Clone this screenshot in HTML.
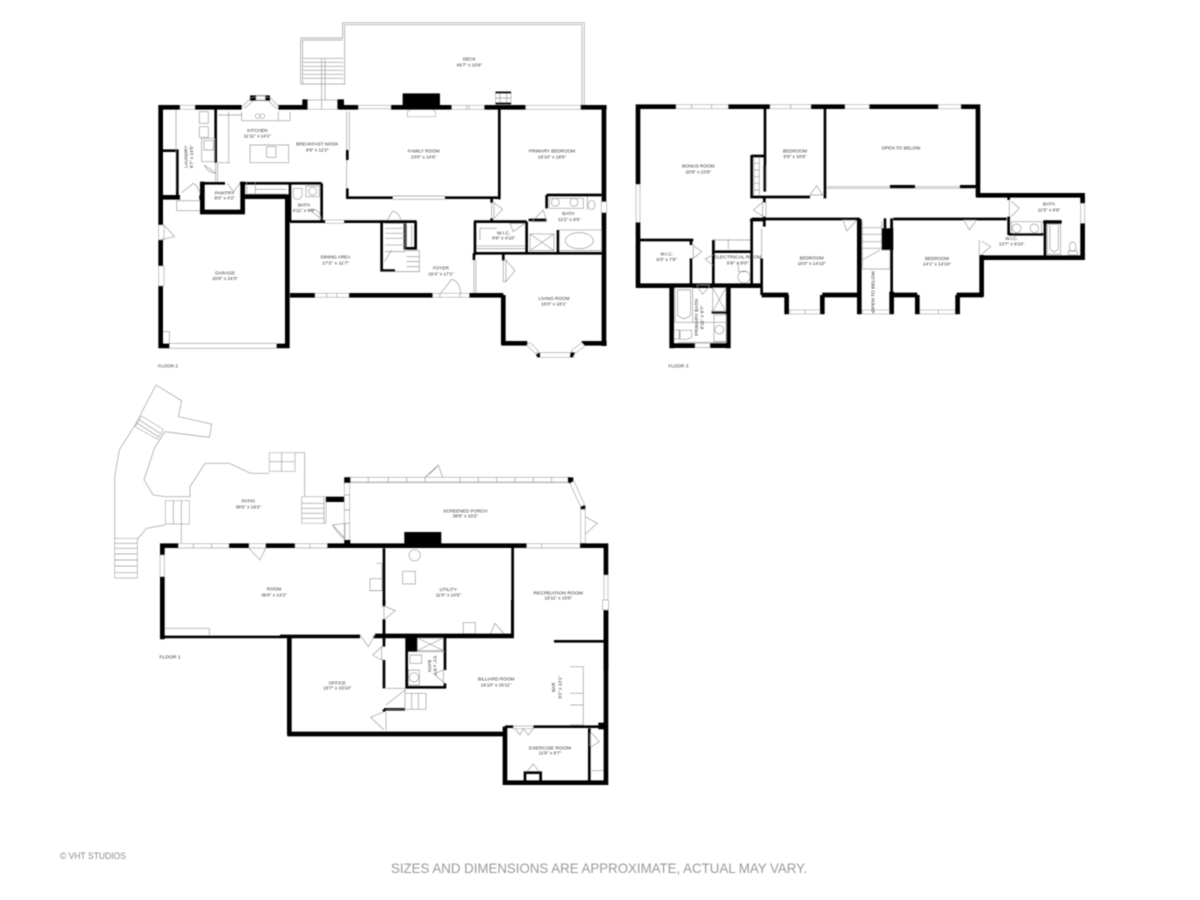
<!DOCTYPE html>
<html><head><meta charset="utf-8"><style>
html,body{margin:0;padding:0;background:#fff}
svg{display:block;filter:blur(.4px)}
text{font-family:"Liberation Sans",sans-serif;fill:#333;text-anchor:middle;font-size:14px}
.w{fill:none;stroke:#000;stroke-width:14}
.m{fill:none;stroke:#000;stroke-width:8}
.g{fill:none;stroke:#999;stroke-width:2}
.l{fill:none;stroke:#aaa;stroke-width:2}
.h{fill:#fff;stroke:#aaa;stroke-width:2}
.b{fill:#000}
</style></head><body>
<svg xmlns="http://www.w3.org/2000/svg" width="1200" height="900" viewBox="0 0 1200 900">
<rect width="1200" height="900" fill="#fff"/>

<!-- FLOOR 2 -->
<g transform="translate(150,10) scale(.3333)">
<!-- deck -->
<path class="g" d="M578,85V38H1303V285M584,222V44H1296V285M452,222V84H578M458,222V90H578"/>
<path class="g" d="M460,145H580M460,157H580M460,169H580M460,181H580M460,193H580M460,205H580M452,222H586M515,145V270M525,145V270"/>
<rect class="h" x="1037" y="245" width="46" height="38"/><rect class="b" x="1037" y="245" width="46" height="5"/><rect class="b" x="1037" y="278" width="46" height="5"/><path class="g" d="M1050,250V278M1070,250V278M1037,264H1083"/>
<path class="b" d="M758,250H870V292H758Z"/>
<path class="h" d="M772,320V305L790,293H840L857,305V320Z"/>
<!-- outer walls -->
<path class="w" d="M32,285V645M32,690V768M32,828V1015M25,292H90M135,292H275M385,292H472M567,292H625M723,292H905M1003,292H1127M1292,292H1370M1362,285V575M1362,608V1008M1295,1000H1370M1055,1000H1132M1060,855V1005M420,856H495M597,856H848M958,856H1060M25,1008H58M380,1008H418M412,560V1015M32,562H90M148,562H158"/>
<path class="b" d="M457,268H473V298H457ZM562,268H582V298H562ZM300,256H360V272H300Z"/>
<path class="g" d="M275,292L305,262H360L388,292M283,296L310,272H355L380,296"/>
<rect class="h" x="318" y="258" width="28" height="12"/>
<!-- windows -->
<path class="h" d="M90,286H135V298H90ZM473,270H562V298H473ZM625,286H723V296H625ZM905,286H1003V298H905ZM1127,286H1292V298H1127ZM495,850H597V862H495ZM848,850H958V862H848ZM26,768H42V828H26ZM26,645H42V690H26ZM1354,575H1370V608H1354ZM525,630H583V640H525Z"/>
<path class="g" d="M950,286V298M957,286V298M515,270V298M530,850V862M560,850V862M870,850V862M930,850V862"/>
<path class="h" d="M1130,1005L1140,998L1165,1022L1158,1032ZM1165,1028H1272V1042H1165ZM1272,1032L1264,1022L1296,998L1305,1008Z"/>
<path class="b" d="M1158,1034L1170,1028V1042H1162ZM1262,1028H1275L1268,1042H1260Z"/>
<!-- garage door -->
<path class="g" d="M58,1000H380M58,1015H380M40,965H58V1000"/>
<!-- inner -->
<path class="m" d="M38,422H82V555M197,295V458"/>
<path class="g" d="M197,458V515M203,458V515M78,300V545"/>
<path class="w" d="M157,515V612M150,606H285M278,515V612M285,560H418"/>
<path class="m" d="M157,520H225M270,520H515M515,520V632M420,520V635M420,635H525M583,635H695M695,635V785M695,635H800M695,782H735M765,640V715H797V635M975,635V735M972,635H1130M1130,635V730M972,730H1355M1224,660V730M1190,555H1355M1190,555V595M1136,630H1190M1025,565V578M1025,625V635M1060,730V752M972,730V750M972,850V860"/>
<path class="m" d="M592,420V450M592,535V567M590,563H728M885,563H1050M1048,295V568"/>
<path class="g" d="M590,305V420M598,305V420M590,450V535M728,558H885M728,568H885M972,750V850M978,750V850"/>
<!-- kitchen fixtures -->
<path class="g" d="M205,315H275M236,305V458M205,458H240M275,305V332H420V305M385,305V332M300,405H416V458H300ZM350,410H378V442H350ZM148,305H175V340H148ZM148,350H175V382H148ZM155,385H195V455H155ZM162,392H190V420H162ZM290,515V552H410M316,515V552M316,538H410"/>
<circle class="g" cx="323" cy="318" r="7"/><circle class="g" cx="337" cy="318" r="7"/>
<path class="g" d="M198,490L163,465M163,465Q172,488 198,490M130,520L95,548M130,520Q146,530 148,548M80,572H150M80,602H150M80,572V602M232,520L250,545M270,520L250,545"/>
<path class="g" d="M430,535H456V560L448,568H436L430,560ZM468,528H508V560H468Z"/><circle class="g" cx="488" cy="544" r="12"/>
<path class="g" d="M515,628L480,600M480,600Q505,590 515,628M728,603L712,630M728,603Q750,610 752,630M705,640H765V725H705M705,655H765M705,670H765M705,685H765M705,705H765M770,722H808V785H695M770,740H808M770,755H808M770,770H808M770,645V710M785,645V710M703,755L725,720"/>
<path class="g" d="M1025,578H1032V625H1025ZM1032,578L1058,598L1032,625M990,690V655H1040M980,708H1125M980,716H1125M1080,640H1125L1090,665ZM1140,672H1212V722H1140ZM1140,672L1212,722M1212,672L1140,722M1228,660H1355V722H1228ZM1198,565H1300V595H1198ZM1312,560V600M1145,635L1180,600L1190,635Z"/>
<ellipse class="g" cx="1288" cy="692" rx="42" ry="24"/><circle class="g" cx="1216" cy="577" r="12"/><circle class="g" cx="1272" cy="577" r="12"/><ellipse class="g" cx="1325" cy="585" rx="10" ry="14"/>
<path class="g" d="M1060,750H1068V815H1060ZM1068,750L1095,782L1068,815M872,850L905,808Q930,815 932,850M28,690L74,680L42,645"/>
<!-- labels -->
<text x="958" y="152">DECK</text><text x="958" y="170">46'7" x 10'9"</text>
<text x="322" y="366">KITCHEN</text><text x="322" y="383">11'11" x 14'1"</text>
<text x="502" y="406">BREAKFAST NOOK</text><text x="502" y="424">9'9" x 12'2"</text>
<text x="821" y="428">FAMILY ROOM</text><text x="821" y="445">23'0" x 14'6"</text>
<text x="1206" y="428">PRIMARY BEDROOM</text><text x="1206" y="445">16'10" x 18'6"</text>
<text x="224" y="553" style="font-size:15px">PANTRY</text><text x="224" y="568">8'0" x 4'2"</text>
<text x="462" y="590">BATH</text><text x="462" y="606">4'11" x 9'9"</text>
<text x="1255" y="615">BATH</text><text x="1258" y="633">12'2" x 9'5"</text>
<text x="1061" y="673" style="font-size:15px">W.I.C.</text><text x="1061" y="689">8'8" x 4'10"</text>
<text x="557" y="745">DINING AREA</text><text x="557" y="763" style="font-size:15px">17'2" x 11'7"</text>
<text x="873" y="779">FOYER</text><text x="873" y="796">15'4" x 17'1"</text>
<text x="225" y="793">GARAGE</text><text x="225" y="810">20'8" x 24'3"</text>
<text x="1212" y="870">LIVING ROOM</text><text x="1212" y="887">16'0" x 18'1"</text>
<text x="0" y="0" transform="translate(112,440) rotate(-90)">LAUNDRY</text><text x="0" y="0" transform="translate(129,440) rotate(-90)">8'7" x 14'5"</text>
<text x="54" y="1073">FLOOR 2</text>
</g>

<!-- FLOOR 3 -->
<g transform="translate(630,95) scale(.3333)">
<path class="w" d="M18,35H138M295,35H420M543,35H645M718,35H925M993,35H1050M24,28V268M24,382V578M1044,28V305M1038,301H1365M1358,295V325M1358,385V495M1055,488H1365M1055,480V605M980,600H1060M983,600V658M862,600V658M790,600H862M785,590V658M470,600V658M577,600V658M577,600H690M395,600H475M688,372V658M18,572H395M125,570V760M295,570V760M125,752H195M240,752H300"/>
<path class="m" d="M405,35V290M365,180V310M365,183H405M365,306H540M585,35V310M403,310V322M403,365V395M360,375H400M365,375V570M395,490V600M365,372H690M790,372H1130M785,372V600M1136,305V315M1136,365V420M1136,418H1240M1245,380V488M1240,380H1295M30,435H190M183,435V450M183,490V570M250,435V570M250,470H365M245,652H295"/>
<path class="g" d="M248,435H360M255,432V468M295,432V462M590,280H1040M590,275H1040"/>
<rect class="b" x="780" y="270" width="75" height="9"/><rect class="b" x="990" y="270" width="50" height="9"/>
<rect class="b" x="755" y="400" width="35" height="65"/><path class="m" d="M765,370V400M785,370V400"/>
<path class="h" d="M138,29H295V41H138ZM420,29H543V41H420ZM645,29H718V41H645ZM925,29H993V41H925ZM18,268H30V382H18ZM1352,325H1364V385H1352ZM480,645H570V657H480ZM697,645H778V657H697ZM870,645H975V657H870ZM195,745H240V758H195Z"/>
<path class="g" d="M185,29V41M245,29V41M482,29V41M730,645V657M925,645V657M525,645V657"/>
<path class="g" d="M372,185V300M388,185V300M372,205H388M372,225H388M372,245H388M372,265H388M372,285H388"/>
<path class="g" d="M400,210V290M408,210V290M540,300H580M540,300L560,272L578,300M398,320V365M408,320V365M400,320L370,345L400,365M635,375H678M640,378L650,408L678,378M1000,375H1040M1003,378L1018,405L1038,378M1048,435V478M1055,438L1082,455L1055,478M1138,318V365M1143,318L1168,340L1143,365M183,450H190V490H183M190,452L215,470L190,490M250,480L225,492L250,512"/>
<path class="g" d="M697,378V520M755,378V462M697,398H755M697,418H755M697,440H755M697,460H755M697,522H780M755,465H780V522M697,495L750,465M395,400V485"/>
<path class="g" d="M135,578H188V682H135ZM143,585H182V662L162,672L143,662ZM200,570H240M200,572L218,598L240,572M248,578H288V650H248ZM248,578L288,650M288,578L248,650M145,682H290V742H145M132,705H148V732H132ZM150,706H185V728L170,733H150ZM252,660H290V740H252Z"/>
<circle class="g" cx="268" cy="704" r="13"/><circle class="g" cx="342" cy="546" r="18"/><path class="g" d="M325,500V530H350"/>
<path class="g" d="M1145,380H1235V415H1145ZM1252,388H1292V478H1252ZM1260,392V462L1272,472L1285,462V392M1315,468H1342V480H1315Z"/><circle class="g" cx="1160" cy="400" r="13"/><circle class="g" cx="1213" cy="400" r="13"/><ellipse class="g" cx="1328" cy="455" rx="10" ry="14"/>
<rect class="b" x="1240" y="376" width="55" height="10"/>
<text x="205" y="218">BONUS ROOM</text><text x="205" y="235">20'8" x 23'8"</text>
<text x="495" y="173">BEDROOM</text><text x="495" y="189">9'8" x 18'6"</text>
<text x="813" y="163">OPEN TO BELOW</text>
<text x="545" y="493">BEDROOM</text><text x="545" y="510">16'0" x 14'10"</text>
<text x="921" y="495">BEDROOM</text><text x="921" y="511">14'1" x 14'10"</text>
<text x="1257" y="332">BATH</text><text x="1257" y="349">11'5" x 9'9"</text>
<text x="1145" y="435">W.I.C.</text><text x="1145" y="452">13'7" x 6'10"</text>
<text x="110" y="481">W.I.C.</text><text x="110" y="498">6'0" x 7'9"</text>
<text x="323" y="490" style="font-size:15px">ELECTRICAL ROOM</text><text x="323" y="508" style="font-size:15px">5'8" x 9'0"</text>
<text style="font-size:15px" transform="translate(733,590) rotate(-90)">OPEN TO BELOW</text>
<text style="font-size:15px" transform="translate(204,667) rotate(-90)">PRIMARY BATH</text><text style="font-size:15px" transform="translate(221,667) rotate(-90)">8'11" x 9'7"</text>
<text x="145" y="818">FLOOR 3</text>
</g>

<!-- FLOOR 1 upper -->
<g transform="translate(110,380) scale(.3333)">
<path class="g" d="M138,15L215,62L205,110L305,132L298,172L165,155L133,205L102,300L130,345L165,350H240V320L285,250H358L422,280H478M138,15L75,135L28,210L14,290V480H80L110,445L165,435"/>
<path class="h" d="M95,108L160,148L143,178L75,140Z"/><path class="g" d="M88,120L150,160M82,130L145,170"/>
<path class="h" d="M166,362H238V432H166Z"/><path class="g" d="M190,362V432M214,362V432"/>
<path class="h" d="M14,475H82V594H14Z"/><path class="g" d="M14,490H82M14,505H82M14,522H82M14,540H82M14,558H82M14,578H82"/>
<path class="h" d="M478,218H555V274H478Z"/><path class="g" d="M478,245H555M515,218V274M555,218H584V350M214,432V490"/>
<path class="h" d="M575,350H648V430H575Z"/><path class="g" d="M575,370H642M575,385H642M575,400H642M575,415H642M642,352V430"/>
<rect class="b" x="648" y="350" width="55" height="16"/>
<path class="h" d="M703,300H1382V308H703ZM703,308H719V490H703Z"/><rect class="h" x="703" y="292" width="677" height="14"/>
<path class="g" d="M775,292V306M835,292V306M890,292V306M945,292V306M1050,292V306M1105,292V306M1160,292V306M1215,292V306M1270,292V306M1325,292V306M703,345H719M703,390H719M703,430H719"/>
<rect class="b" x="703" y="292" width="18" height="16"/><rect class="b" x="703" y="480" width="18" height="14"/>
<path class="b" d="M1374,292H1390V305L1380,312L1374,305ZM1412,377H1426V388H1412Z"/>
<path class="h" d="M1380,310L1392,303L1424,375L1412,380Z"/><path class="h" d="M1412,388H1426V490H1412Z"/>
<path class="g" d="M945,292L985,255L998,292M945,292Q975,270 985,255M668,435L705,430V475ZM668,435Q680,460 705,478M1426,410L1462,430L1426,462"/>
<path class="b" d="M883,456H994V497H883Z"/>
<path class="w" d="M150,497H205M357,497H417M467,497H555M652,497H1250M1410,497H1495M157,490V525M157,590V778M1488,490V585M1488,690V870"/>
<path class="m" d="M150,771H750M790,771H1212"/>
<path class="h" d="M205,491H357V504H205ZM417,491H467V504H417ZM555,491H652V504H555ZM1250,491H1410V504H1250ZM150,525H163V590H150ZM1482,585H1494V690H1482Z"/>
<path class="g" d="M250,491V504M305,491V504M600,491V504M1295,491V504"/>
<path class="g" d="M417,505L450,540L467,505M800,550H816V632H780V596H816"/><path class="g" d="M165,745H298V765"/><rect class="g" x="878" y="574" width="38" height="38"/><circle class="g" cx="914" cy="526" r="17"/>
<rect class="g" x="1060" y="728" width="36" height="34"/>
<text x="415" y="368">PATIO</text><text x="415" y="385">38'5" x 19'2"</text>
<text x="1066" y="397">SCREENED PORCH</text><text x="1066" y="413">38'9" x 10'2"</text>
<text x="492" y="632">ROOM</text><text x="492" y="649">36'6" x 14'2"</text>
<text x="1015" y="633">UTILITY</text><text x="1015" y="650">11'0" x 14'5"</text>
<text x="1345" y="643" style="font-size:15px">RECREATION ROOM</text><text x="1345" y="659">18'11" x 15'6"</text>
<text x="180" y="835" style="font-size:15px">FLOOR 1</text>
<path class="m" d="M822,505V678M822,720V770M1208,500V772"/>
<path class="g" d="M816,680H822V720H816M822,678L856,692L822,720M1140,765L1155,730L1185,765M1140,765H1185"/>
</g>

<!-- FLOOR 1 lower -->
<g transform="translate(280,600) scale(.3333)">
<path class="w" d="M28,105V405M22,402H670M675,380V555M670,548H985M978,0V550"/>
<path class="m" d="M0,108H240M285,105H700M697,0V108M312,0V15M312,58V140M312,180V265M312,328H375M312,328V335M380,110V265M378,262H498M495,110V210M495,250V265M822,124H975M760,380H975M700,380H675M928,385V545M735,545V518H782V545M412,110H495"/>
<rect class="b" x="378" y="110" width="34" height="45"/><rect class="b" x="955" y="368" width="25" height="20"/>
<path class="h" d="M700,378H760V386H700Z"/><path class="h" d="M968,30V0H986V30Z"/>
<path class="g" d="M412,114H490V152H412ZM412,114L490,152M490,114L412,152M385,155H495M385,210H418V255H385ZM390,165H425V190H390Z"/><circle class="g" cx="402" cy="232" r="14"/>
<path class="g" d="M240,105L265,140L285,105M312,140H305V180H312M305,140L278,165L305,180M318,335V390M312,335L272,352L312,390M318,265H375V328M375,270L318,315M375,280H438V328H318M395,280V328M415,280V328M490,210V250M495,250L462,222L490,210M870,200H910V375H870M870,280H910V315H870M705,386L720,405L730,386L745,405L760,386M938,400H930V438H938M938,402L958,425L938,438M930,512H972M740,516L760,492L778,516"/>
<text x="172" y="253">OFFICE</text><text x="172" y="269">15'7" x 15'10"</text>
<text x="648" y="242">BILLIARD ROOM</text><text x="648" y="259">16'10" x 15'11"</text>
<text transform="translate(444,198) rotate(90)">BATH</text><text transform="translate(460,198) rotate(90)">5'1" x 8'7"</text>
<text transform="translate(825,262) rotate(-90)">BAR</text><text transform="translate(845,262) rotate(-90)">9'2" x 13'1"</text>
<text x="810" y="448" style="font-size:15px">EXERCISE ROOM</text><text x="810" y="464">11'6" x 8'7"</text>
</g>

<text x="93" y="859" style="font-size:9px;fill:#888" textLength="66" lengthAdjust="spacingAndGlyphs">© VHT STUDIOS</text>
<text x="599" y="873" style="font-size:14px;fill:#999" textLength="416" lengthAdjust="spacingAndGlyphs">SIZES AND DIMENSIONS ARE APPROXIMATE, ACTUAL MAY VARY.</text>
</svg>
</body></html>
